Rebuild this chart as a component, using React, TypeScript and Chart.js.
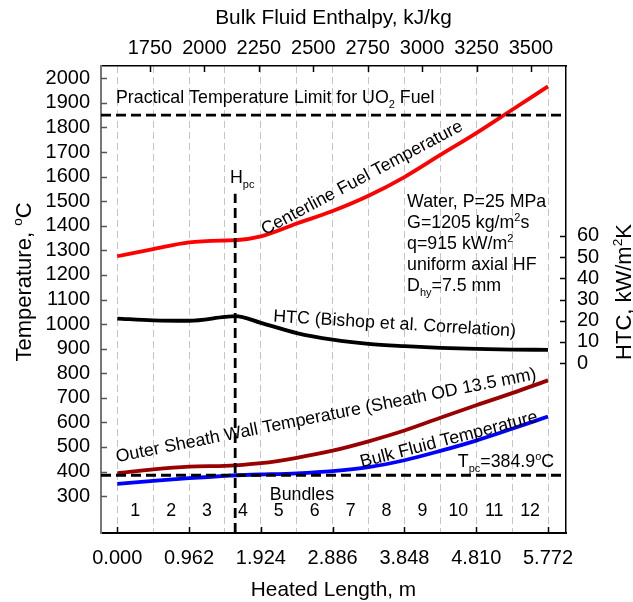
import React, { useEffect, useRef } from 'react';
import { Chart, registerables } from 'chart.js';
Chart.register(...registerables);

// ---- data ----
const heatedLength = [0, 0.481, 0.962, 1.443, 1.58, 1.924, 2.405, 2.886, 3.367, 3.848, 4.329, 4.81, 5.291, 5.772];
const centerlineFuelTemp = [1276, 1305, 1332, 1340, 1341, 1357, 1409, 1460, 1522, 1598, 1688, 1777, 1872, 1967];
const htcBishop = [21.0, 20.2, 20.0, 21.8, 22.2, 19.0, 14.2, 11.1, 9.1, 8.0, 7.2, 6.7, 6.4, 6.3];
const sheathWallTemp = [393, 409, 420, 423, 425, 434, 456, 485, 523, 567, 619, 670, 719, 771];
const bulkFluidTemp = [350, 362, 373, 382, 384.9, 388, 393, 402, 418, 446, 484, 526, 574, 624];

const bundleEdges = [0, 0.481, 0.962, 1.443, 1.924, 2.405, 2.886, 3.367, 3.848, 4.329, 4.81, 5.291, 5.772];
const bundleLabels = ['1', '2', '3', '4', '5', '6', '7', '8', '9', '10', '11', '12'];
const lengthTickLabels = ['0.000', '0.962', '1.924', '2.886', '3.848', '4.810', '5.772'];
const enthalpyTicks = [1750, 2000, 2250, 2500, 2750, 3000, 3250, 3500];
const temperatureTicks = [300, 400, 500, 600, 700, 800, 900, 1000, 1100, 1200, 1300, 1400, 1500, 1600, 1700, 1800, 1900, 2000];
const htcTicks = [0, 10, 20, 30, 40, 50, 60];

const practicalLimitTemp = 1850;
const pseudocriticalTemp = 384.9;
const pseudocriticalLength = 1.58;
const hpcLineTop = 1530;

const X_MIN = -0.218, X_MAX = 6.013;
const Y_MIN = 150, Y_MAX = 2050;
const Y2_MIN = -80, Y2_MAX = 140;
const H_MIN = 1525, H_MAX = 3661;

const FONT = "'Liberation Sans', Arial, sans-serif";

type Part = { t: string; s?: 'sup' | 'sub' };

function drawRich(ctx: CanvasRenderingContext2D, parts: Part[], x: number, y: number, size: number, angle = 0, align: 'left' | 'center' | 'right' = 'left', baseline: CanvasTextBaseline = 'alphabetic') {
  ctx.save();
  ctx.translate(x, y);
  ctx.rotate((angle * Math.PI) / 180);
  const small = size * 0.62;
  let w = 0;
  const widths = parts.map((p) => {
    ctx.font = `${p.s ? small : size}px ${FONT}`;
    const m = ctx.measureText(p.t).width;
    w += m;
    return m;
  });
  let cx = align === 'left' ? 0 : align === 'center' ? -w / 2 : -w;
  ctx.textAlign = 'left';
  ctx.textBaseline = baseline;
  ctx.fillStyle = '#000';
  parts.forEach((p, i) => {
    ctx.font = `${p.s ? small : size}px ${FONT}`;
    const dy = p.s === 'sup' ? -size * 0.4 : p.s === 'sub' ? size * 0.28 : 0;
    ctx.fillText(p.t, cx, dy);
    cx += widths[i];
  });
  ctx.restore();
}

const annotPlugin = {
  id: 'annot',
  afterDraw(chart: any) {
    const ctx: CanvasRenderingContext2D = chart.ctx;
    const xs = chart.scales.x, ys = chart.scales.y, y2 = chart.scales.y2, x2 = chart.scales.x2;
    const area = chart.chartArea;
    const px = (v: number) => xs.getPixelForValue(v);
    const py = (v: number) => ys.getPixelForValue(v);

    // inward tick marks
    ctx.save();
    ctx.lineWidth = 1.5;
    ctx.strokeStyle = '#555';
    temperatureTicks.forEach((t) => {
      const y = Math.round(py(t)) + 0.5;
      ctx.beginPath(); ctx.moveTo(area.left, y); ctx.lineTo(area.left + 6, y); ctx.stroke();
    });
    ctx.strokeStyle = '#000';
    htcTicks.forEach((t) => {
      const y = Math.round(y2.getPixelForValue(t)) + 0.5;
      ctx.beginPath(); ctx.moveTo(area.right - 6, y); ctx.lineTo(area.right, y); ctx.stroke();
    });
    enthalpyTicks.forEach((h) => {
      const x = Math.round(x2.getPixelForValue(h)) + 0.5;
      ctx.beginPath(); ctx.moveTo(x, area.top); ctx.lineTo(x, area.top + 6); ctx.stroke();
    });
    bundleEdges.forEach((b, i) => {
      if (i % 2) return;
      const x = Math.round(px(b)) + 0.5;
      ctx.beginPath(); ctx.moveTo(x, area.bottom); ctx.lineTo(x, area.bottom - 6); ctx.stroke();
    });
    ctx.restore();

    // axis titles
    const cxArea = (area.left + area.right) / 2;
    drawRich(ctx, [{ t: 'Bulk Fluid Enthalpy, kJ/kg' }], cxArea, 18, 20.8, 0, 'center', 'middle');
    drawRich(ctx, [{ t: 'Heated Length, m' }], cxArea, 590, 20.8, 0, 'center', 'middle');
    drawRich(ctx, [{ t: 'Temperature, ' }, { t: 'o', s: 'sup' }, { t: 'C' }], 31, 282, 22, -90, 'center');
    drawRich(ctx, [{ t: 'HTC, kW/m' }, { t: '2', s: 'sup' }, { t: 'K' }], 631, 292, 22, -90, 'center');

    // annotations
    const S = 17.8;
    drawRich(ctx, [{ t: 'Practical Temperature Limit for UO' }, { t: '2', s: 'sub' }, { t: ' Fuel' }], px(-0.017), py(1899), S);
    drawRich(ctx, [{ t: 'H' }, { t: 'pc', s: 'sub' }], px(1.51), py(1573), S);
    drawRich(ctx, [{ t: 'Centerline Fuel Temperature' }], px(1.98), py(1361), S, -28);
    drawRich(ctx, [{ t: 'HTC (Bishop et al. Correlation)' }], px(2.087), py(1010), S, 3.5);
    const cx0 = px(3.883);
    const cy0 = py(1476);
    const lh = 21;
    drawRich(ctx, [{ t: 'Water, P=25 MPa' }], cx0, cy0, S);
    drawRich(ctx, [{ t: 'G=1205 kg/m' }, { t: '2', s: 'sup' }, { t: 's' }], cx0, cy0 + lh, S);
    drawRich(ctx, [{ t: 'q=915 kW/m' }, { t: '2', s: 'sup' }], cx0, cy0 + 2 * lh, S);
    drawRich(ctx, [{ t: 'uniform axial HF' }], cx0, cy0 + 3 * lh, S);
    drawRich(ctx, [{ t: 'D' }, { t: 'hy', s: 'sub' }, { t: '=7.5 mm' }], cx0, cy0 + 4 * lh, S);
    drawRich(ctx, [{ t: 'Outer Sheath Wall Temperature (Sheath OD 13.5 mm)' }], px(-0.004), py(438), S, -11.2);
    drawRich(ctx, [{ t: 'Bulk Fluid Temperature' }], px(3.275), py(417), S, -14.5);
    drawRich(ctx, [{ t: 'T' }, { t: 'pc', s: 'sub' }, { t: '=384.9' }, { t: 'o', s: 'sup' }, { t: 'C' }], px(4.563), py(417), S);
    drawRich(ctx, [{ t: 'Bundles' }], px(2.475), py(306), S, 0, 'center', 'middle');
    bundleLabels.forEach((lab, i) => {
      const c = (bundleEdges[i] + bundleEdges[i + 1]) / 2;
      drawRich(ctx, [{ t: lab }], px(c), py(241), S, 0, 'center', 'middle');
    });
  },
};

const pts = (ys: number[]) => heatedLength.map((x, i) => ({ x, y: ys[i] }));
const plain = (v: any) => String(v);

export default function App() {
  const ref = useRef<HTMLCanvasElement | null>(null);
  useEffect(() => {
    if (!ref.current) return;
    const dashed = { borderColor: '#000', borderWidth: 2.8, borderDash: [10, 5], pointRadius: 0, fill: false };
    const curve = { borderWidth: 3.8, pointRadius: 0, fill: false, cubicInterpolationMode: 'monotone' as const };
    const chart = new Chart(ref.current, {
      type: 'line',
      data: {
        datasets: [
          { ...dashed, label: 'Practical limit', data: [{ x: X_MIN, y: practicalLimitTemp }, { x: X_MAX, y: practicalLimitTemp }] },
          { ...dashed, label: 'Tpc', data: [{ x: X_MIN, y: pseudocriticalTemp }, { x: X_MAX, y: pseudocriticalTemp }] },
          { ...dashed, label: 'Hpc', data: [{ x: pseudocriticalLength, y: Y_MIN }, { x: pseudocriticalLength, y: hpcLineTop }] },
          { ...curve, label: 'Centerline Fuel Temperature', borderColor: '#ff0000', data: pts(centerlineFuelTemp) },
          { ...curve, label: 'HTC', borderColor: '#000000', data: pts(htcBishop), yAxisID: 'y2' },
          { ...curve, label: 'Outer Sheath Wall Temperature', borderColor: '#990000', data: pts(sheathWallTemp) },
          { ...curve, label: 'Bulk Fluid Temperature', borderColor: '#0000ff', data: pts(bulkFluidTemp) },
        ] as any,
      },
      options: {
        responsive: false,
        animation: false,
        layout: { padding: 0 },
        plugins: { legend: { display: false }, tooltip: { enabled: false }, title: { display: false } },
        scales: {
          x: {
            type: 'linear', position: 'bottom', min: X_MIN, max: X_MAX,
            afterBuildTicks: (s: any) => { s.ticks = bundleEdges.map((v) => ({ value: v })); },
            afterFit: (s: any) => { s.height = 69; },
            ticks: {
              autoSkip: false, maxRotation: 0, minRotation: 0, padding: 13, color: '#000',
              font: { family: FONT, size: 20 },
              callback: (_v: any, i: number) => (i % 2 === 0 ? lengthTickLabels[i / 2] : ''),
            },
            grid: { color: '#c4c4c4', lineWidth: 1, drawTicks: false },
            border: { display: true, color: '#000', width: 2, dash: [7, 4] },
          },
          x2: {
            type: 'linear', position: 'top', min: H_MIN, max: H_MAX,
            afterBuildTicks: (s: any) => { s.ticks = enthalpyTicks.map((v) => ({ value: v })); },
            afterFit: (s: any) => { s.height = 66; },
            ticks: { autoSkip: false, maxRotation: 0, padding: 6, color: '#000', font: { family: FONT, size: 20 }, callback: plain },
            grid: { display: false, drawTicks: false },
            border: { display: true, color: '#000', width: 1.5 },
          },
          y: {
            type: 'linear', position: 'left', min: Y_MIN, max: Y_MAX,
            afterBuildTicks: (s: any) => { s.ticks = temperatureTicks.map((v) => ({ value: v })); },
            afterFit: (s: any) => { s.width = 101; },
            ticks: { autoSkip: false, padding: 11, color: '#000', font: { family: FONT, size: 20 }, callback: plain },
            grid: { display: false, drawTicks: false },
            border: { display: true, color: '#777', width: 2 },
          },
          y2: {
            type: 'linear', position: 'right', min: Y2_MIN, max: Y2_MAX,
            afterBuildTicks: (s: any) => { s.ticks = htcTicks.map((v) => ({ value: v })); },
            afterFit: (s: any) => { s.width = 67; },
            ticks: { autoSkip: false, padding: 11, color: '#000', font: { family: FONT, size: 20 }, callback: plain },
            grid: { display: false, drawTicks: false },
            border: { display: true, color: '#000', width: 1.5 },
          },
        } as any,
      },
      plugins: [annotPlugin],
    });
    return () => chart.destroy();
  }, []);
  return (
    <canvas
      ref={ref}
      width={633}
      height={602}
      style={{ position: 'absolute', left: 0, top: 0, width: 633, height: 602, display: 'block', background: '#fff' }}
    />
  );
}
